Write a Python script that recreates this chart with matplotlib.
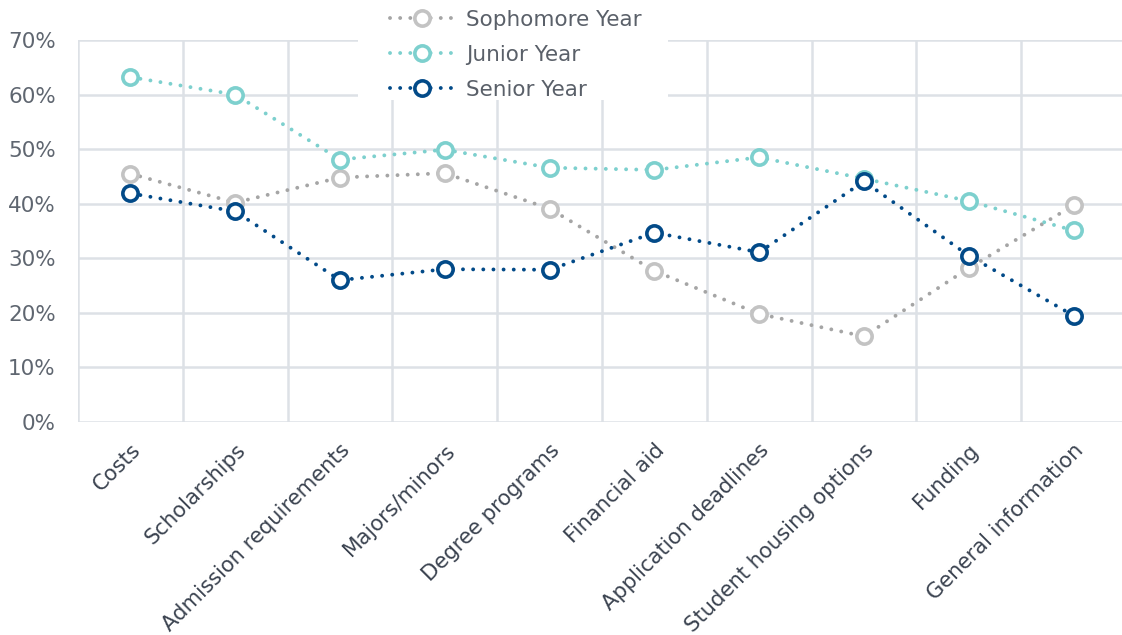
"""Line chart: topics of interest by class year."""

import matplotlib

matplotlib.use("Agg")
import matplotlib.pyplot as plt
from matplotlib.patches import Rectangle
from matplotlib.ticker import FuncFormatter, MultipleLocator

CATEGORIES = [
    "Costs", "Scholarships", "Admission requirements", "Majors/minors",
    "Degree programs", "Financial aid", "Application deadlines",
    "Student housing options", "Funding", "General information",
]
SOPHOMORE = [45.5, 40.2, 44.8, 45.6, 39.1, 27.7, 19.8, 15.7, 28.2, 39.7]
JUNIOR = [63.2, 60.0, 48.1, 49.9, 46.6, 46.2, 48.5, 44.6, 40.5, 35.1]
SENIOR = [41.9, 38.6, 26.0, 28.0, 27.9, 34.7, 31.1, 44.1, 30.5, 19.5]

SERIES = [
    ("Sophomore Year", SOPHOMORE, "#a5a5a5", "#c3c3c3"),
    ("Junior Year", JUNIOR, "#7dd0ce", "#7dd0ce"),
    ("Senior Year", SENIOR, "#024a88", "#024a88"),
]

GRID = "#dde1e6"


def main() -> None:
    fig = plt.figure(figsize=(11.22, 6.35), dpi=100, facecolor="white")
    ax = fig.add_axes([0.0695, 0.3354, 0.934, 0.6016])

    x = range(len(CATEGORIES))
    for name, vals, line_c, mark_c in SERIES:
        ax.plot(
            x, vals, color=line_c, linestyle=(0, (0.01, 2.6)), linewidth=2.8,
            dash_capstyle="round", marker="o", markersize=11,
            markerfacecolor="white", markeredgecolor=mark_c,
            markeredgewidth=2.6, label=name, zorder=3,
        )

    ax.set_xlim(-0.5, len(CATEGORIES) - 0.5)
    ax.set_ylim(0, 70)
    ax.yaxis.set_major_locator(MultipleLocator(10))
    ax.yaxis.set_major_formatter(FuncFormatter(lambda v, _: f"{v:.0f}%"))

    # vertical grid sits between categories
    ax.set_xticks([i + 0.5 for i in range(-1, len(CATEGORIES))], minor=True)
    ax.set_xticks(list(x), CATEGORIES, rotation=45, ha="right",
                  rotation_mode="anchor", fontsize=15.2, color="#3b4350")
    ax.grid(which="minor", axis="x", color=GRID, linewidth=1.8)
    ax.grid(which="major", axis="y", color=GRID, linewidth=1.8)
    ax.set_axisbelow(True)
    ax.tick_params(axis="both", which="both", length=0)
    ax.tick_params(axis="x", pad=13)
    ax.tick_params(axis="y", pad=16, labelsize=15.5, labelcolor="#5f6670")
    for s in ax.spines.values():
        s.set_visible(False)

    # white panel behind the legend, hiding the grid under it
    ax.add_patch(Rectangle((358 / 1122, 1 - 100 / 635), 310 / 1122, 100 / 635,
                           transform=fig.transFigure, facecolor="white",
                           edgecolor="none", clip_on=False, zorder=2.5))

    leg = fig.legend(
        loc="upper left", bbox_to_anchor=(0.3476, 0.985), frameon=False,
        fontsize=15.5, handlelength=3.0, handletextpad=0.55,
        labelspacing=0.7, borderpad=0, borderaxespad=0,
    )
    for t in leg.get_texts():
        t.set_color("#5a6069")

    fig.savefig("out.png", dpi=100, facecolor="white")


if __name__ == "__main__":
    main()
